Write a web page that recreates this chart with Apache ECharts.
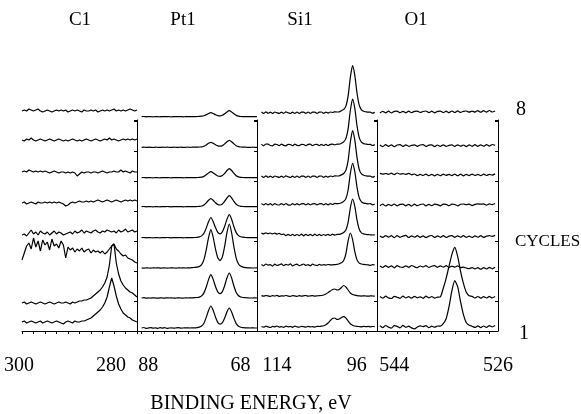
<!DOCTYPE html>
<html><head><meta charset="utf-8">
<script src="https://cdn.jsdelivr.net/npm/echarts@6/dist/echarts.min.js"></script>
<style>html,body{margin:0;padding:0;background:#fff}#c{width:581px;height:414px}</style>
</head><body><div id="c"></div>
<script>
// ---- data ----
const cycleStep = 30;              // vertical stacking step between cycles (a.u.)
const energyStep = 0.5;            // eV between samples
const panelTitles = ['C1', 'Pt1', 'Si1', 'O1'];
const cycleMarks = ['8', '1'];

// first sampled energy of each panel (eV), samples go downwards in energy
const c1Start = 300, ptStart = 89, siStart = 117, oStart = 546.5;

const c1Ticks = [300, 297.5, 295, 292.5, 290, 287.5, 285, 282.5, 280, 277.5, 275];
const c1Labels = [300, 280];
const ptTicks = [89, 86.5, 84, 81.5, 79, 76.5, 74, 71.5, 69, 66.5];
const ptLabels = [88, 68];
const siTicks = [116, 113.5, 111, 108.5, 106, 103.5, 101, 98.5, 96, 93.5];
const siLabels = [114, 96];
const oTicks = [545.5, 543.5, 541.5, 539.5, 537.5, 535.5, 533.5, 531.5, 529.5, 527.5];
const oLabels = [544, 526];

// intensities (a.u.), cycle 1 .. cycle 8
const c1 = [
 [9,10,8,9,10,9,8,9,10,8, 9,10,9,8,9,10,9,8,7,9, 10,9,8,10,9,9,10,10, 11,12,13,15,17,19,21,24,28,34,44,53,45,35,27,22,18,16,14,13,11,10,9],
 [-2,-1,-3,-2,-1,-2,-3,-2,-1,-2, -3,-2,-1,-2,-3,-2,-1,-2,-2,-1, -2,-3,-1,-2,-1,0,0,1, 1,2,3,5,7,9,11,14,18,24,36,55,57,38,27,20,16,13,11,9,8,6,4],
 [11,18,25,28,22,33,24,30,20,31, 26,29,21,32,25,27,23,30,26,13, 24,21,23,19,22,20,23,19,21,22, 18,21,19,20,18,20,17,19,22,25, 27,22,20,17,15,16,13,12,11,9, 8],
 [6,7,5,8,11,7,9,6,10,8, 7,9,6,8,10,7,9,8,6,7, 8,9,7,10,8,9,11,8,10,9, 8,10,11,9,8,10,9,11,10,9, 10,8,11,9,10,12,9,10,11,9, 10],
 [8,9,7,8,9,8,7,9,8,8, 9,8,9,8,9,8,9,8,7,5, 6,8,9,8,9,10,9,9,10,9, 10,9,10,11,10,9,10,11,10,9, 10,11,10,9,10,11,10,11,10,11, 10],
 [9,10,9,11,10,9,10,9,10,9, 10,9,8,9,10,9,8,9,9,8, 9,8,9,8,5, 7,9,8,9,9, 8,9,9,8,9,10,9,8,9,9, 10,9,9,11,9,10,9,8,10,9, 9],
 [11,10,12,11,13,11,10,11,12,11, 10,11,12,11,10,11,12,11,10,11, 10,11,12,11,10,11,10,11,12,11, 10,11,12,11,10,11,12,11,13,11, 12,11,10,11,12,11,12,11,12,11, 12],
 [10,11,10,12,11,10,11,12,10,9, 10,11,10,9,10,11,10,11,10,11, 9,10,11,10,11,10,9,11,10,10, 11,10,11,9,10,11,10,11,10,11, 12,10,11,10,11,10,11,12,11,10, 11]
];
const pt = [
 [3,3.5,2.5,3,3.4,2.8,3.2,2.6,3.3,2.9,3.4,2.7,3,3.2,2.8,3.1,3.3,2.9,3,3.2,3.1,3,3.2,3.1, 3.4,3.9,5,7.8,13.6,20.6,25,20.8,14,8.6,6.8,8.3,13,19.2,23,19,12.6,7.4,4.8,3.8,3.4,3.2, 3.1,3,3.1,3,3],
 [3,3.3,2.8,3.1,2.9,3.2,3,2.8,3.1,3,2.9,3.2,3,3.1,2.9,3,3.1,3,2.9,3.1,3,3.1,3.2,3.3, 3.5,3.9,5.1,8.1,14,21.4,26.3,21.6,14.5,9.1,7.3,9.4,15.5,23.2,28,23,15,8.5,5.3,4,3.5,3.3, 3.1,3,3,3.1,3],
 [3,2.8,3.2,3,2.9,3.1,3,3.2,2.9,3,3.1,2.9,3,3.2,3,2.9,3.1,3,3.2,3,3.1,3.2,3.4,3.6, 3.8,4.5,6.4,11.4,21.2,33.4,41.4,33.8,22.1,13.2,10.4,14.2,24.9,38.6,47,38.2,24.1,12.7,7,4.8,3.9,3.4, 3.2,3.1,3,3,3.1],
 [3.3,3.5,3.2,3.4,3.3,3.1,3.4,3.3,3.2,3.4,3.3,3.5,3.3,3.2,3.4,3.3,3.3,3.4,3.2,3.3,3.4,3.3,3.4,3.5, 3.7,4.1,5.1,7.7,12.9,19.3,23.5,19.5,13.4,8.6,7.2,9.2,14.7,21.9,26.3,21.7,14.3,8.4,5.4,4.2,3.8,3.5, 3.4,3.3,3.3,3.4,3.3],
 [4.3,4.5,4.2,4.4,4.3,4.1,4.4,4.3,4.2,4.4,4.3,4.5,4.3,4.2,4.4,4.3,4.3,4.4,4.2,4.3,4.4,4.3,4.4,4.4,4.5,4.6, 5,6.1,8.1,10.7,12.3,10.8,8.3,6.5,6,7,9.8,13.1,15.3,13.1,9.6,6.7,5.3,4.7,4.5, 4.4,4.3,4.3,4.4,4.3,4.3],
 [3.3,3.5,3.2,3.4,3.3,3.1,3.4,3.3,3.2,3.4,3.3,3.4,3.3,3.2,3.4,3.3,3.3,3.4,3.2,3.3,3.4,3.3,3.4,3.4,3.5,3.6, 3.8,4.6,6.2,8.1,9.3,8.1,6.4,5,4.6,5.5,7.6,10.5,12.3,10.5,7.6,5.3,4.1,3.7, 3.5,3.4,3.3,3.3,3.4,3.3,3.3],
 [3.7,3.9,3.6,3.8,3.7,3.5,3.8,3.7,3.6,3.8,3.7,3.8,3.7,3.6,3.8,3.7,3.7,3.8,3.6,3.7,3.8,3.7,3.8,3.8,3.9,4, 4.1,4.8,6.1,7.7,8.7,7.7,6.2,5.1,4.8,5.4,7.1,9.3,10.7,9.3,7.1,5.2,4.3,4, 3.9,3.8,3.7,3.7,3.8,3.7,3.7],
 [4.3,4.5,4.2,4.4,4.3,4.1,4.4,4.3,4.2,4.4,4.3,4.4,4.3,4.2,4.4,4.3,4.3,4.4,4.2,4.3,4.4,4.3,4.4,4.4,4.5,4.6, 4.8,5.2,6.2,7.5,8.3,7.5,6.3,5.4,5.2,5.8,7.2,9.1,10.3,9.1,7.2,5.6,4.8,4.5, 4.4,4.3,4.3,4.4,4.3,4.3,4.3]
];
const si = [
 [4.5,3.8,4.9,4.1,3.5,4.6,4.2,5,3.9,4.4,3.6,4.8,4.1,4.5,3.7,4.9,4.2,3.8,4.6,4.3,3.9,4.7,4.1,4.4,3.8,4.6,4.5, 4.8,5.3,6.3,8,10.5,12.5,13,11.5,12,13.5,14.3,13,10,7.3,5.8,5,4.6, 4.4,4.1,4.7,4.3,4.6,4.2,4.5,4.3],
 [5.3,4.8,5.5,5.1,4.6,5.4,5,5.6,4.7,5.2,4.9,5.5,5,4.6,5.3,5.1,4.7,5.4,4.9,5.2,5.5,4.8,5.1,5.3,4.9,5.2,5.3, 5.5,6,7,8.5,10,11.5,12,11,11.5,13.5,15.5,14,11,8,6.5,5.8,5.3, 5.1,4.9,5.2,5,4.8,5.1,5,4.9],
 [6.5,5.2,7,5.8,6.4,4.9,6.8,5.5,6.2,7.1,5.3,6.6,5.9,7.2,5.1,6.3,6.9,5.4,6.1,7,5.6,6.4,5.2,6.8,6,5.5,6.7,5.8,6.3,5.9,6.5,6.1,6.2,6.4, 6.6,7.3,8.2,10.5,17.2,30,38,31.6,19.4,11.1,7.9,7,6.6,6.3, 6.1,5.6,6.4,6],
 [7.9,7.1,8.2,7.3,8,7.1,7.8,6.9,7.6,6.5,6.9, 5.4,6.6,5.5,6.7,5.3,6.5,5.4,6.8,5.2,6.7,5.5,6.6,5.3,6.8,5.4,6.7,5.5,6.5,5.6,6.7,5.5,6.8,5.9,6.6, 6.7,7.4,8.5,11,18.6,33,42,34.8,21.1,11.8,8.2,7.1,6.7,6.4, 6.2,6,6.1],
 [7.4,6.1,7.5,6.2,7.3,5.9,7.4,6.3,6,7.3,6.2,7.5,6.1,5.9,7.3,6.1,7.4,6,7.2,7.3,6.1,7.4,6,7.2,7.3,6.1,7.2,7.4,6.1,7.3,6.2,7.4,6.5,7.6,7.3, 7.5,8.3,9.6,12.4,21,37.5,47.7,39.5,23.9,13.3,9.2,7.9,7.5,7.1, 7.4,6.2,7],
 [5,3.6,5.1,3.7,4.9,3.5,5,4.3,3.6,4.9,3.7,5.1,4.3,3.5,4.9,3.7,5,3.6,4.8,4.9,3.7,5,3.6,4.8,4.9,3.7,4.8,5,3.7,4.9,3.8,5,4.4,5.1,5, 5.2,6.1,7.5,10.7,20.4,38.8,50.3,41.1,23.6,11.7,7.1,5.7,5.2,4.8, 4.9,3.8,4.6],
 [6.9,5.2,7,6.9,5.5,5.1,6.8,6.5,5.3,6.9,5.6,5.2,6.7,6.5,5.3,6.8,5.6,5.4,6.7,6.5,5.3,6.6,6.8,5.4,6.5,6.7,5.3,6.6,5.5,6.7,5.5,6.6,6.8,6.1,6.9, 6.9,7.8,9.2,12.4,22.1,40.5,52,42.8,25.3,13.4,8.8,7.4,6.9,6.5, 6.7,5.5,6.4],
 [9,7.6,9.1,7.7,8.9,7.5,9,8.2,7.6,8.9,7.7,9.1,8.3,7.5,8.9,7.7,9,7.6,8.8,8.9,7.7,9,7.6,8.8,8.9,7.7,8.8,9,7.7,8.9,7.9,9,8.5,9.2,9, 9.2,10.2,11.6,14.9,24.8,43.6,55.3,45.9,28,15.8,11.1,9.7,9.2,8.8, 8.9,7.8,8.6]
];
const ox = [
 [5.2,3.4,5.5,3.9,2.9,5.3,4.6,3.2,5.6,3.7,4.9,3.1,2.2,4,5.2,4.4,5.4,3.3,4.8,3.8,5, 4.8,7.3,12.3,24.3,40.3,50.3,44.3,29.3,16.3,8.3,5.8,4.8, 3.6,5.1,3.4,5,3.7,5.3,4,5.4],
 [4.5,2.8,4.8,3.1,2.5,4.6,3.8,2.7,4.9,3,4.4,2.8,4.7,3.2,4.2,2.7,4.8,3.1,4.5,2.9,3.9, 4.2,12.7,22.7,34.7,46.7,53.7,44.7,29.7,17.7,8.7,5.2, 4.6,3,4.5,2.8,4.3,3,4.6,3.1,4.4],
 [5.1,3.5,5.4,3.7,5.2,3.2,5.3,4,3.6,5.2,3.7,5.5,4.2,3.3,5,4.1,5.3,3.5,4.8,5.3,3.7,5.1,3.9,5.3,3.5,4.9,3.8,5.1,3.4,3.8,3, 2.4,3.3,2.2,3.4,1.8,3.4,2,3.6,2.2,3.7],
 [5.1,3.6,5.4,3.9,5.3,3.4,5.4,3.7,4.9,5.6,3.5,5.1,3.8,5.4,3.6,5.2,3.3,4.9,5.5,3.6,5.1,3.7,5.3,3.5,4.9,5.4,3.6,5.2,3.8,5.3,3.6,4.9,3.5,5.2,3.8,5.3,3.6,4.9,5.4,4.6,5.6],
 [5.2,6.8,5,6.7,5.3,7,5.1,6.6,6.9,5.2,6.7,4.9,6.8,5.3,6.5,7,5.1,6.7,5.3,6.8,6.4,5.2,6.9,6.7,5.3,6.8,6.5,5.2,6.7,7,6.4,6.9,5.4,6.6,7.1,6.8,7.1,5.8,7.2,6.4,7.5],
 [7.6,6.8,7.5,6.7,7.8,6.4,8,6.9,7.4,6.6,7.6,6.2,7,5.4,6.6,5.5,6.8,5.3,6.7,5.1,6.7,5.3,6.8,5.6,6.7,5.4,6.9,5.3,6.8,5.2,6.7,5.4,6.9,5.5,6.6,5.4,6.8,5.5,6.7,5.9,7.1],
 [6.1,4.4,6.3,4.6,6.2,4.3,6,6.4,4.5,6.1,4.7,5.6,6.2,4.6,6,6.4,4.5,5.9,6.1,4.4,6,4.6,6.2,4.7,5.7,6.1,4.6,6.2,4.8,6,4.4,6.1,4.7,6.3,4.6,6.2,4.8,6.4,4.9,6.5,5.6],
 [8.1,9.7,8.2,9.8,8,9.6,9.9,8.3,9.7,8.1,9.8,8.4,9.6,9.9,8.5,9.5,10,8.4,9.8,8.2,9.7,9.9,8.4,9.8,8.3,10,8.5,10.1,8.6,9.6,10,8.8,9.9,8.9,10.4,8.8,10.3,8.9,10.5,9,10]
];

// ---- chart ----
const FONT = '"Liberation Serif", "Times New Roman", serif';
const panels = [
  {cycles: c1, start: c1Start, min: 275, max: 300, ticks: c1Ticks, labels: c1Labels, left: 22, width: 115, pad: [0, 6, 0, 0]},
  {cycles: pt, start: ptStart, min: 64, max: 90, ticks: ptTicks, labels: ptLabels, left: 137, width: 120, pad: [0, 0, 0, 4]},
  {cycles: si, start: siStart, min: 91, max: 118, ticks: siTicks, labels: siLabels, left: 257, width: 120, pad: [0, 0, 0, 4]},
  {cycles: ox, start: oStart, min: 526, max: 547, ticks: oTicks, labels: oLabels, left: 377, width: 121, pad: [0, 0, 0, 0]}
];
const GRID_TOP = 120, GRID_H = 211;

const grid = [], xAxis = [], yAxis = [], series = [];
panels.forEach((p, g) => {
  grid.push({left: p.left, top: GRID_TOP, width: p.width, height: GRID_H});
  xAxis.push({
    type: 'value', gridIndex: g, inverse: true, min: p.min, max: p.max,
    axisLine: {show: true, onZero: false, lineStyle: {color: '#000', width: 1}},
    axisTick: {show: true, customValues: p.ticks, length: 3, lineStyle: {color: '#000', width: 1}},
    axisLabel: {show: true, customValues: p.labels, color: '#000', fontFamily: FONT, fontSize: 20, margin: 25, padding: p.pad},
    splitLine: {show: false}
  });
  yAxis.push({
    type: 'value', gridIndex: g, min: 0, max: GRID_H, interval: 30, position: 'left',
    axisLine: {show: g > 0, lineStyle: {color: '#000', width: 1}},
    axisTick: {show: g > 0, length: 3, lineStyle: {color: '#000', width: 1}},
    axisLabel: {show: false}, splitLine: {show: false}
  });
  p.cycles.forEach((vals, k) => {
    series.push({
      type: 'line', xAxisIndex: g, yAxisIndex: g, clip: false, silent: true,
      showSymbol: false, smooth: g === 0 ? false : 0.2,
      lineStyle: {color: '#000', width: 1.2},
      data: vals.map((v, i) => [p.start - i * energyStep, v + k * cycleStep])
    });
  });
});
// right frame of the O1 panel
yAxis.push({
  type: 'value', gridIndex: 3, min: 0, max: GRID_H, interval: 30, position: 'right',
  axisLine: {show: true, lineStyle: {color: '#000', width: 1}},
  axisTick: {show: true, inside: true, length: 3, lineStyle: {color: '#000', width: 1}},
  axisLabel: {show: false}, splitLine: {show: false}
});

const txt = (text, x, y, size, align) => ({
  type: 'text', x: x, y: y, silent: true,
  style: {text: text, fill: '#000', font: size + 'px ' + FONT, textAlign: align || 'center', textVerticalAlign: 'middle'}
});
const titleX = [80, 183, 300, 416];
const graphic = panelTitles.map((t, i) => txt(t, titleX[i], 20, 19));
graphic.push(txt(cycleMarks[0], 521, 110, 20));
graphic.push(txt('CYCLES', 515, 242, 17, 'left'));
graphic.push(txt(cycleMarks[1], 524, 334, 20));
graphic.push(txt('BINDING ENERGY, eV', 251, 404, 20));

const chart = echarts.init(document.getElementById('c'), null, {renderer: 'canvas'});
chart.setOption({animation: false, backgroundColor: '#fff', grid, xAxis, yAxis, series, graphic});
</script></body></html>
